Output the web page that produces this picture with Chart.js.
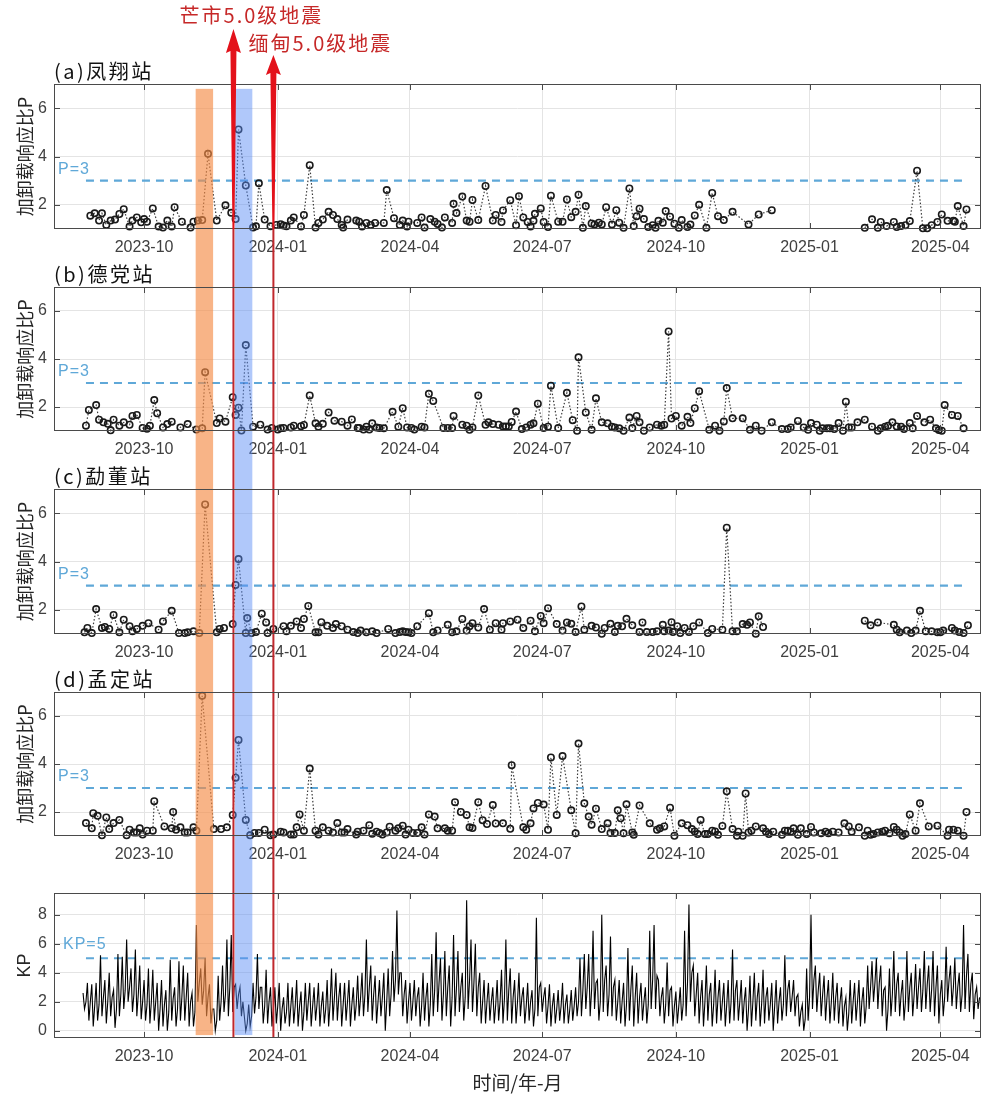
<!DOCTYPE html>
<html>
<head>
<meta charset="utf-8">
<script src="https://cdn.jsdelivr.net/npm/chart.js@4.4.0/dist/chart.umd.min.js"></script>
<style>
  body { margin: 0; background: #fff; }
  #wrap { position: relative; width: 1000px; height: 1100px; }
  canvas { position: absolute; left: 0; }
</style>
</head>
<body>
<div id="wrap">
  <canvas id="cA" width="1000" height="257" style="top:0px"></canvas>
  <canvas id="cB" width="1000" height="202" style="top:257px"></canvas>
  <canvas id="cC" width="1000" height="203" style="top:459px"></canvas>
  <canvas id="cD" width="1000" height="202" style="top:662px"></canvas>
  <canvas id="cE" width="1000" height="236" style="top:864px"></canvas>
</div>
<script>
// x values are days counted from 2023-10-01
const tickDays = [0, 92, 183, 274, 366, 458, 548];
const tickLabels = ['2023-10', '2024-01', '2024-04', '2024-07', '2024-10', '2025-01', '2025-04'];
const xMin = -62, xMax = 576;

const bands = [[35.5, 47.5], [62.5, 74.5]];
const quakeDays = [61.5, 89];
const quakeNames = ['芒市5.0级地震', '缅甸5.0级地震'];
const refSpan = [-40, 565];
const stations = ['(a)凤翔站', '(b)德党站', '(c)勐董站', '(d)孟定站'];

// (a) 凤翔站
const dayA = [-37,-34,-31,-29,-26,-23,-20,-17,-14,-10,-8,-5,-2,0,2,6,10,13,16,19,21,26,32,34,37,40,44,50,56,60,
  63,65,70,75,77,79,83,87,91,94,96,98,101,103,108,110,114,118,120,123,127,130,133,136,137,140,146,148,150,153,
  156,159,165,167,172,176,178,181,182,188,191,193,197,200,202,205,207,212,213,215,219,222,224,226,230,235,240,242,
  246,247,252,256,258,261,264,266,268,269,273,275,278,280,285,288,291,294,297,299,302,304,308,310,313,315,318,322,325,327,
  330,334,337,339,341,344,347,350,352,354,357,359,362,365,368,370,374,376,379,382,387,391,395,399,405,416,423,432,460,
  496,501,505,507,511,516,518,521,524,527,532,536,539,542,546,549,553,557,558,560,564,566];
const pA = [1.55,1.65,1.35,1.65,1.17,1.35,1.39,1.62,1.82,1.1,1.35,1.48,1.28,1.41,1.3,1.85,1.1,1.06,1.35,1.1,1.9,1.3,1.06,1.3,1.35,1.37,4.11,1.35,1.98,1.67,
  1.41,5.12,2.8,1.06,1.11,2.89,1.39,1.11,1.17,1.2,1.14,1.11,1.35,1.48,1.1,1.58,3.64,1.06,1.25,1.39,1.71,1.58,1.41,1.17,1.06,1.39,1.35,1.3,1.1,1.25,
  1.17,1.25,1.25,2.61,1.45,1.17,1.35,1.1,1.3,1.25,1.48,1.06,1.41,1.3,1.21,1.06,1.48,1.25,2.04,1.66,2.34,1.35,1.3,2.2,1.37,2.78,1.35,1.58,
  1.29,1.77,2.19,1.16,2.36,1.48,1.29,1.1,1.34,1.63,1.85,1.29,1.08,2.38,1.3,1.3,2.22,1.49,1.71,2.42,1.05,1.95,1.23,1.19,1.26,1.19,1.9,1.19,1.78,1.26,
  1.05,2.68,1.12,1.53,1.84,1.41,1.08,1.16,1.05,1.34,1.26,1.74,1.51,1.22,1.05,1.37,1.08,1.19,1.56,2.0,1.05,2.49,1.53,1.37,1.71,1.19,1.6,1.78,null,
  1.05,1.4,1.05,1.29,1.12,1.29,1.08,1.12,1.16,1.33,3.41,1.03,1.03,1.16,1.29,1.6,1.34,1.34,1.3,1.95,1.12,1.81];

// (b) 德党站
const dayB = [-40,-38,-33,-31,-28,-25,-23,-21,-17,-14,-10,-8,-5,-1,2,4,7,9,13,16,19,25,30,36,40,42,50,52,56,61,
  63,65,67,70,75,80,85,88,92,94,96,101,103,108,110,114,118,120,123,127,131,136,140,143,147,148,151,153,155,157,
  160,162,165,171,175,178,181,184,186,191,193,196,199,206,209,212,213,219,222,224,226,230,235,237,240,244,
  247,249,251,253,256,260,263,266,268,271,275,278,280,285,291,295,298,299,304,308,311,315,319,322,324,327,330,334,336,339,
  341,344,348,353,356,358,361,363,366,370,374,376,379,382,389,393,396,399,401,405,412,417,421,425,432,439,443,445,450,454,
  457,459,463,465,467,470,472,475,478,481,483,485,487,491,496,501,505,507,510,512,515,518,521,523,527,529,532,537,541,545,
  547,549,551,556,560,564];
const pB = [1.22,1.88,2.08,1.47,1.36,1.3,1.03,1.47,1.22,1.36,1.26,1.63,1.67,1.13,1.09,1.22,2.29,1.74,1.15,1.29,1.39,1.15,1.29,1.06,1.11,3.45,1.33,1.52,1.39,2.41,
  1.67,1.97,1.02,4.58,1.18,1.26,1.06,1.13,1.06,1.11,1.13,1.15,1.22,1.2,1.25,2.48,1.32,1.18,1.3,1.77,1.43,1.39,1.22,1.48,1.13,1.13,1.06,1.18,1.06,1.32,
  1.15,1.13,1.11,1.8,1.18,1.95,1.15,1.13,1.06,1.18,1.15,2.55,2.25,1.13,1.13,1.13,1.63,1.26,1.22,1.05,1.15,2.48,1.26,1.36,1.29,1.26,
  1.19,1.19,1.19,1.38,1.81,1.08,1.15,1.26,1.32,2.14,1.12,1.18,2.89,1.12,2.59,1.45,1.01,4.07,1.77,1.05,2.36,1.36,1.32,1.18,1.15,1.11,1.01,1.56,1.12,1.63,
  1.36,1.01,1.15,1.26,1.22,1.26,5.15,1.52,1.63,1.22,1.59,1.33,1.95,2.66,1.05,1.22,1.01,1.4,2.79,1.53,1.53,1.05,1.22,1.01,1.36,1.08,1.08,1.15,1.42,1.15,
  1.05,1.33,1.26,1.01,1.11,1.11,1.11,1.08,1.33,1.01,2.22,1.15,1.15,1.36,1.47,1.18,1.01,1.11,1.18,1.22,1.36,1.19,1.18,1.08,1.33,1.11,1.63,1.36,1.47,1.11,
  1.04,1.01,2.08,1.67,1.63,1.11];

// (c) 勐董站
const dayC = [-41,-39,-36,-33,-29,-27,-24,-21,-17,-14,-10,-8,-5,-1,3,10,13,19,24,28,30,34,38,42,50,52,55,61,63,65,
  70,71,74,77,81,84,85,89,96,98,101,105,108,110,113,118,120,122,126,130,132,136,140,144,147,149,153,157,160,168,
  173,176,178,180,182,184,188,196,199,202,209,212,215,219,222,224,226,230,234,238,242,
  246,247,252,257,261,266,269,273,275,278,284,288,291,294,297,301,303,308,311,315,317,321,324,326,329,332,336,341,343,346,
  350,353,357,358,361,363,364,367,369,372,375,378,382,388,391,398,401,405,408,412,415,417,421,423,426,460,
  496,500,505,516,518,520,525,528,531,534,538,542,546,548,550,556,558,561,564,567];
const pC = [1.07,1.25,1.04,2.03,1.25,1.29,1.21,1.79,1.07,1.59,1.32,1.11,1.21,1.34,1.45,1.18,1.52,1.96,1.04,1.04,1.07,1.11,1.04,6.36,1.07,1.21,1.25,1.41,3.03,4.1,
  1.04,1.66,1.04,1.08,1.84,1.48,1.04,1.21,1.32,1.11,1.34,1.52,1.25,1.62,2.16,1.07,1.07,1.49,1.34,1.25,1.41,1.32,1.18,1.08,1.04,1.14,1.07,1.11,1.04,1.21,
  1.04,1.08,1.11,1.08,1.07,1.04,1.32,1.86,1.07,1.15,1.38,1.07,1.11,1.62,1.14,1.32,1.45,1.27,2.03,1.18,1.45,
  1.18,1.45,1.52,1.59,1.25,1.55,1.11,1.75,1.45,2.07,1.41,1.14,1.48,1.42,1.08,2.14,1.18,1.34,1.27,1.01,1.25,1.42,1.08,1.34,1.32,1.63,1.36,1.08,1.48,1.08,
  1.08,1.11,1.38,1.11,1.14,1.49,1.08,1.32,1.04,1.25,1.08,1.32,1.48,1.04,1.21,1.18,5.4,1.11,1.11,1.41,1.38,1.48,1.01,1.73,1.29,null,
  1.55,1.36,1.48,1.38,1.18,1.07,1.14,1.04,1.14,1.96,1.11,1.11,1.07,1.07,1.14,1.25,1.14,1.08,1.04,1.36];

// (d) 孟定站
const dayD = [-40,-36,-35,-32,-29,-26,-24,-21,-17,-12,-10,-7,-5,-3,-1,2,6,7,14,19,20,22,25,28,30,34,36,40,48,53,
  57,61,63,65,70,73,76,79,83,87,89,94,96,101,103,105,107,110,114,118,120,123,127,130,133,136,138,140,146,147,
  151,155,157,160,162,164,167,169,173,175,178,180,182,185,188,191,193,196,200,202,207,209,212,214,218,222,224,226,230,233,
  236,240,242,
  247,252,253,261,263,266,268,271,275,278,280,284,288,294,297,299,303,306,308,311,315,319,321,324,326,328,330,332,336,337,
  341,348,353,355,358,362,365,370,374,377,379,381,383,386,388,391,393,395,398,401,405,408,409,412,414,416,418,421,426,428,
  430,433,439,441,443,445,447,450,452,456,459,461,466,469,471,474,478,482,485,487,492,496,498,500,502,505,508,510,513,516,
  518,520,522,524,527,531,534,540,546,553,554,557,560,564,566];
const pD = [1.54,1.32,1.95,1.84,1.03,1.77,1.29,1.54,1.67,1.03,1.26,1.15,1.15,1.32,1.06,1.22,1.22,2.45,1.4,1.32,2.0,1.26,1.36,1.15,1.15,1.36,1.22,6.84,1.29,1.29,
  1.36,1.88,3.43,5.0,1.67,1.03,1.13,1.13,1.26,1.03,1.06,1.18,1.15,1.06,1.06,1.36,1.9,1.22,3.81,1.22,1.06,1.36,1.22,1.15,1.54,1.15,1.15,1.29,1.06,1.18,
  1.22,1.45,1.09,1.18,1.13,1.06,1.15,1.39,1.22,1.32,1.43,1.06,1.26,1.13,1.13,1.36,1.06,1.9,1.81,1.32,1.32,1.22,1.22,2.41,2.0,1.88,1.36,1.33,2.41,1.66,
  1.5,2.29,1.52,
  1.53,1.3,3.95,1.36,1.26,1.53,2.15,2.38,2.31,1.26,4.27,1.88,4.33,2.07,1.11,4.85,2.36,1.81,1.47,2.14,1.29,1.53,1.12,1.12,2.07,1.74,1.11,2.32,1.15,1.05,
  2.27,1.53,1.26,1.32,1.4,2.18,1.01,1.53,1.45,1.29,1.19,1.08,1.67,1.08,1.08,1.22,1.19,1.05,1.42,2.86,1.29,1.01,1.18,1.01,2.77,1.15,1.22,1.4,1.32,1.18,
  1.08,1.18,1.05,1.22,1.22,1.18,1.32,1.05,1.32,1.08,1.38,1.15,1.11,1.18,1.11,1.18,1.15,1.53,1.4,1.18,1.36,1.01,1.22,1.05,1.08,1.15,1.18,1.22,1.11,1.38,
  1.26,1.15,1.01,1.08,1.9,1.22,2.36,1.4,1.43,1.01,1.26,1.26,1.22,1.01,2.0];

// KP: peak, trough and typical level read in 3-day steps from day -42
const kpStart = -42, kpStep = 3;
const kpHigh = [2.6,3.3,3.2,3.3,5.2,3.5,4.0,2.8,5.3,5.1, 6.3,4.3,5.6,4.5,3.5,4.3,4.2,3.3,3.5,2.8,
  4.9,3.0,4.8,4.5,4.0,2.6,7.3,4.3,5.0,3.2, 1.5,3.8,4.5,6.3,6.6,3.2,3.0,1.0,1.8,3.3,
  5.3,3.0,4.2,3.0,3.0,3.3,2.3,3.3,3.0,3.5, 2.7,3.3,3.3,3.0,3.3,2.7,3.5,4.3,4.0,3.3,
  3.3,3.5,3.0,3.8,4.0,6.3,4.5,3.8,3.5,4.0, 4.3,5.5,8.3,4.0,3.5,3.3,3.5,3.0,4.0,3.3,
  5.3,6.8,5.0,5.5,4.5,6.6,5.5,4.0,9.0,6.3, 6.0,4.0,3.5,3.3,3.0,3.5,4.2,6.3,4.3,3.5,
  4.0,3.0,3.3,2.8,7.8,3.3,3.0,3.2,2.6,2.8, 3.3,2.5,2.8,3.0,5.0,5.3,5.3,6.9,3.5,8.0,
  4.5,6.5,3.5,3.5,3.3,5.7,4.5,4.0,3.3,3.0, 6.9,7.3,3.5,3.0,4.7,3.0,2.7,3.0,6.9,8.7,
  4.5,4.0,3.5,4.5,3.3,4.2,3.5,3.3,3.5,5.6, 3.5,3.5,3.0,3.8,4.0,3.3,4.2,3.0,3.3,3.5,
  3.0,5.2,3.5,3.5,2.5,1.8,4.3,8.0,4.5,4.0, 3.8,3.5,4.0,3.3,3.0,2.3,3.5,3.3,3.5,3.0,
  4.5,4.8,5.0,4.5,3.0,4.3,5.5,4.0,3.5,5.5, 4.0,4.6,4.3,5.5,4.5,5.5,4.5,3.5,5.8,4.5,
  5.0,4.0,7.3,5.3,4.0,3.0];
const kpLow = [1.5,0.7,0.3,0.7,1.0,0.5,1.0,0.2,1.0,1.5, 2.0,1.3,1.0,0.8,0.7,0.5,0.7,0.0,0.3,0.0,
  0.7,0.3,0.7,0.7,0.3,0.3,2.0,1.8,1.0,0.5, 0.0,0.7,1.3,1.0,1.3,1.5,1.0,0.0,0.3,1.2,
  1.5,0.5,0.5,0.3,0.5,0.0,0.5,0.3,0.5,0.3, 0.0,0.7,0.3,0.7,0.3,0.5,0.3,0.7,0.7,0.3,
  0.7,0.3,0.7,1.0,1.0,1.3,0.7,0.5,1.0,0.0, 1.0,2.0,2.5,1.0,0.5,0.7,1.0,0.3,0.7,0.3,
  1.0,1.3,0.7,1.0,0.3,1.0,1.3,0.7,1.5,1.3, 1.0,0.5,0.5,0.7,0.5,0.7,0.5,0.7,0.5,0.5,
  1.0,0.5,0.7,0.3,1.0,1.3,0.5,0.3,0.5,0.7, 0.5,0.5,0.7,1.0,1.0,1.5,1.0,1.5,0.7,1.3,
  1.0,1.0,0.7,0.5,0.3,0.7,0.3,0.5,0.7,0.5, 1.5,1.5,1.0,0.5,1.0,0.3,0.5,0.7,1.0,2.0,
  1.0,0.5,0.3,0.7,0.3,0.5,0.7,0.3,0.5,0.7, 0.7,0.5,0.0,0.3,0.7,0.3,0.5,0.7,0.0,0.5,
  0.7,1.0,1.3,1.0,0.3,0.0,0.7,1.5,1.3,1.0, 0.7,0.5,0.7,0.5,0.3,0.0,0.5,0.7,0.3,0.5,
  1.5,2.0,1.5,1.0,0.0,1.0,1.3,1.0,0.7,1.3, 1.0,1.5,1.3,1.5,1.3,1.0,0.5,1.0,2.0,1.7,
  1.5,1.3,1.5,1.3,0.8,1.5];
const kpMid = [2.0,2.0,1.7,1.8,2.3,2.0,2.3,1.5,2.5,2.8, 3.0,2.5,2.5,2.0,1.8,2.0,2.0,1.5,1.8,1.3,
  2.2,1.5,2.3,2.3,2.0,1.3,3.3,2.8,2.3,1.5, 0.7,2.0,2.5,3.0,3.0,2.5,2.0,0.5,1.0,2.3,
  3.0,1.7,2.0,1.5,1.7,1.5,1.3,1.7,1.7,1.7, 1.3,2.0,1.7,1.8,1.7,1.5,1.8,2.3,2.3,1.8,
  2.0,1.8,1.8,2.3,2.5,3.0,2.5,2.0,2.3,2.0, 2.5,3.5,4.0,2.5,2.0,2.0,2.3,1.7,2.3,1.8,
  2.8,3.3,2.5,3.0,2.3,3.0,3.0,2.3,3.5,3.3, 3.0,2.0,2.0,2.0,1.8,2.0,2.2,2.8,2.3,2.0,
  2.3,1.7,2.0,1.5,3.0,2.3,1.7,1.7,1.5,1.7, 1.8,1.5,1.7,2.0,2.8,3.0,2.8,3.3,2.0,3.5,
  2.5,3.0,2.0,2.0,1.8,2.8,2.3,2.3,2.0,1.8, 3.5,3.8,2.3,1.8,2.8,1.7,1.7,1.8,3.3,4.0,
  2.5,2.3,2.0,2.5,1.8,2.3,2.0,1.8,2.0,2.8, 2.0,2.0,1.5,2.0,2.3,1.8,2.3,1.8,1.7,2.0,
  1.8,2.8,2.3,2.3,1.3,0.8,2.3,3.5,2.8,2.5, 2.3,2.0,2.3,2.0,1.7,1.2,2.0,2.0,2.0,1.7,
  3.0,3.3,3.3,2.8,1.5,2.5,3.2,2.5,2.0,3.0, 2.5,3.0,2.8,3.2,2.8,3.0,2.5,2.3,3.5,3.0,
  3.0,2.5,3.8,3.2,2.5,2.3];

const NUM = '"Liberation Sans", Arial, sans-serif';
const CJK = '"Noto Sans CJK SC", sans-serif';
const bandColors = ['rgba(244,140,70,0.65)', 'rgba(90,140,245,0.48)'];
const refColor = '#5fa8d8';

function xScale(height, title) {
  return {
    type: 'linear', min: xMin, max: xMax,
    afterBuildTicks: s => { s.ticks = tickDays.map(v => ({ value: v })); },
    afterFit: s => { s.height = height; },
    grid: { color: '#e4e4e4', drawTicks: false },
    border: { display: false },
    ticks: {
      padding: 9, color: '#404040', font: { family: NUM, size: 16 },
      maxRotation: 0, autoSkip: false,
      callback: v => tickLabels[tickDays.indexOf(v)]
    },
    title: title
      ? { display: true, text: title, color: '#262626', font: { family: CJK, size: 19 }, padding: { top: 0, bottom: 6 } }
      : { display: false }
  };
}

function yScale(min, max, ticks, title, family) {
  return {
    min, max,
    afterBuildTicks: s => { s.ticks = ticks.map(v => ({ value: v })); },
    afterFit: s => { s.width = 54; },
    grid: { color: '#e4e4e4', drawTicks: false },
    border: { display: false },
    ticks: { padding: 7, color: '#404040', font: { family: NUM, size: 16 } },
    title: { display: true, text: title, color: '#262626', font: { family, size: 18 }, padding: { top: 14, bottom: 0 } }
  };
}

function arrow(ctx, px, tipY, headY, endY) {
  ctx.beginPath();
  ctx.moveTo(px, tipY);
  ctx.lineTo(px + 7.5, headY);
  ctx.lineTo(px + 3, headY - 2);
  ctx.lineTo(px + 1, endY);
  ctx.lineTo(px - 1, endY);
  ctx.lineTo(px - 3, headY - 2);
  ctx.lineTo(px - 7.5, headY);
  ctx.closePath();
  ctx.fill();
}

function overlay(p) {
  return {
    id: 'overlay',
    afterDatasetsDraw(chart) {
      const { ctx, chartArea: a, scales: { x, y } } = chart;
      const top = p.bandTop != null ? y.getPixelForValue(p.bandTop) : 0;
      const bottom = p.bandBottom != null ? y.getPixelForValue(p.bandBottom) : chart.height;
      ctx.save();
      bands.forEach((b, i) => {
        const x0 = x.getPixelForValue(b[0]), x1 = x.getPixelForValue(b[1]);
        ctx.fillStyle = bandColors[i];
        ctx.fillRect(x0, top, x1 - x0, bottom - top);
      });
      const lineTop = p.arrows ? a.bottom : 0;
      const lineBottom = p.last ? a.bottom : chart.height;
      ctx.strokeStyle = '#c0282d';
      ctx.lineWidth = 2;
      quakeDays.forEach(d => {
        const px = x.getPixelForValue(d);
        ctx.beginPath();
        ctx.moveTo(px, lineTop);
        ctx.lineTo(px, lineBottom);
        ctx.stroke();
      });
      ctx.restore();
    },
    afterDraw(chart) {
      const { ctx, chartArea: a, scales: { x, y } } = chart;
      ctx.save();
      // box and inner tick marks
      ctx.strokeStyle = '#4a4a4a';
      ctx.lineWidth = 1;
      ctx.strokeRect(a.left + 0.5, a.top + 0.5, a.width - 1, a.height - 1);
      ctx.beginPath();
      tickDays.forEach(d => {
        const px = Math.round(x.getPixelForValue(d)) + 0.5;
        ctx.moveTo(px, a.bottom); ctx.lineTo(px, a.bottom - 6);
        ctx.moveTo(px, a.top); ctx.lineTo(px, a.top + 6);
      });
      y.ticks.forEach(t => {
        const py = Math.round(y.getPixelForValue(t.value)) + 0.5;
        ctx.moveTo(a.left, py); ctx.lineTo(a.left + 6, py);
        ctx.moveTo(a.right, py); ctx.lineTo(a.right - 6, py);
      });
      ctx.stroke();

      // reference line label
      ctx.fillStyle = refColor;
      ctx.font = '16px ' + NUM;
      ctx.letterSpacing = '1px';
      ctx.textBaseline = 'middle';
      ctx.textAlign = 'left';
      ctx.fillText(p.refText, a.left + p.refDx, y.getPixelForValue(p.refVal) - p.refDy);

      // panel title
      if (p.title) {
        ctx.fillStyle = '#111';
        ctx.font = '20px ' + CJK;
        ctx.letterSpacing = '2.5px';
        ctx.fillText(p.title, a.left, a.top - 13);
      }

      // earthquake arrows and names
      if (p.arrows) {
        ctx.fillStyle = '#e3121b';
        const tips = [[a.top - 55, a.top - 31], [a.top - 29, a.top - 9]];
        quakeDays.forEach((d, i) => {
          arrow(ctx, x.getPixelForValue(d), tips[i][0], tips[i][1], a.bottom);
        });
        ctx.fillStyle = '#c62828';
        ctx.font = '20px ' + CJK;
        ctx.letterSpacing = '2px';
        ctx.textAlign = 'center';
        ctx.fillText(quakeNames[0], x.getPixelForValue(quakeDays[0]) + 18, a.top - 69);
        ctx.fillText(quakeNames[1], x.getPixelForValue(quakeDays[1]) + 47, a.top - 41);
      }
      ctx.restore();
    }
  };
}

const common = {
  responsive: false,
  animation: false,
  events: [],
  plugins: { legend: { display: false }, tooltip: { enabled: false } }
};

function pChart(id, padTop, title, days, vals, extra) {
  new Chart(document.getElementById(id), {
    type: 'scatter',
    data: {
      datasets: [
        {
          data: days.map((d, i) => ({ x: d, y: vals[i] })),
          showLine: true, spanGaps: false, clip: false,
          borderColor: '#3a3a3a', borderWidth: 1.2, borderDash: [1.5, 2],
          pointRadius: 3.2, pointBorderWidth: 1.6,
          pointBorderColor: '#1a1a1a', pointBackgroundColor: 'rgba(0,0,0,0)'
        },
        {
          data: [{ x: refSpan[0], y: 3 }, { x: refSpan[1], y: 3 }],
          showLine: true, borderColor: refColor, borderWidth: 2.2,
          borderDash: [8, 6], pointRadius: 0
        }
      ]
    },
    options: Object.assign({}, common, {
      layout: { padding: { top: padTop, right: 19, left: 0, bottom: 0 } },
      scales: {
        x: xScale(28),
        y: yScale(1, 7, [2, 4, 6], '加卸载响应比P', CJK)
      }
    }),
    plugins: [overlay(Object.assign({ title, refText: 'P=3', refVal: 3, refDx: 4, refDy: 11 }, extra))]
  });
}

pChart('cA', 84, stations[0], dayA, pA, { bandTop: 6.8, arrows: true });
pChart('cB', 30, stations[1], dayB, pB, {});
pChart('cC', 30, stations[2], dayC, pC, {});
pChart('cD', 30, stations[3], dayD, pD, {});

// each 3-day step: peak, trough, typical level
const kpData = [];
kpHigh.forEach((h, i) => {
  const d = kpStart + i * kpStep;
  kpData.push({ x: d, y: h }, { x: d + 1, y: kpLow[i] }, { x: d + 2, y: kpMid[i] });
});

new Chart(document.getElementById('cE'), {
  type: 'scatter',
  data: {
    datasets: [
      {
        data: kpData, showLine: true, borderColor: '#000', borderWidth: 1.1,
        pointRadius: 0, clip: false
      },
      {
        data: [{ x: refSpan[0], y: 5 }, { x: refSpan[1], y: 5 }],
        showLine: true, borderColor: refColor, borderWidth: 2.2,
        borderDash: [8, 6], pointRadius: 0
      }
    ]
  },
  options: Object.assign({}, common, {
    layout: { padding: { top: 29, right: 19, left: 0, bottom: 0 } },
    scales: {
      x: xScale(62, '时间/年-月'),
      y: yScale(-0.5, 9.5, [0, 2, 4, 6, 8], 'KP', NUM)
    }
  }),
  plugins: [overlay({ refText: 'KP=5', refVal: 5, refDx: 9, refDy: 14, bandBottom: -0.3, last: true })]
});
</script>
</body>
</html>
